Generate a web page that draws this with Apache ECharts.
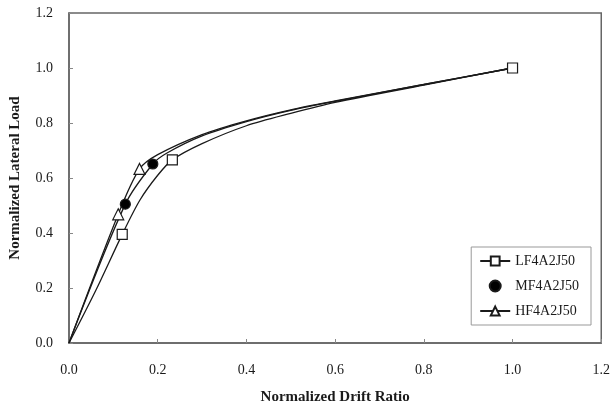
<!DOCTYPE html>
<html>
<head>
<meta charset="utf-8">
<script src="https://cdn.jsdelivr.net/npm/echarts@6/dist/echarts.min.js"></script>
<style>
  html, body { margin: 0; padding: 0; background: #fff; }
  #chart { width: 613px; height: 412px; }
</style>
</head>
<body>
<div id="chart"></div>
<script>
// points; *Marks = indices that carry a marker
var lfX = [0, 0.06, 0.12, 0.16, 0.2, 0.233, 0.3, 0.4, 0.5, 0.6, 0.8, 1.0];
var lfY = [0, 0.19, 0.395, 0.52, 0.61, 0.666, 0.725, 0.79, 0.835, 0.875, 0.938, 1.0];
var lfMarks = [2, 5, 11];

var mfX = [0, 0.127, 0.189, 0.22, 0.3, 0.4, 0.5, 0.6, 0.8, 1.0];
var mfY = [0, 0.505, 0.651, 0.69, 0.753, 0.805, 0.846, 0.879, 0.94, 1.0];
var mfMarks = [1, 2];

var hfX = [0, 0.111, 0.159, 0.2, 0.3, 0.4, 0.5, 0.6, 0.8, 1.0];
var hfY = [0, 0.468, 0.633, 0.685, 0.758, 0.808, 0.848, 0.88, 0.94, 1.0];
var hfMarks = [1, 2];

var names = ['LF4A2J50', 'MF4A2J50', 'HF4A2J50'];
var ticks = [0, 0.2, 0.4, 0.6, 0.8, 1.0, 1.2];

var serif = 'Liberation Serif';
var ink = '#1a1a1a';

function points(xs, ys, marks) {
	return xs.map(function(x, i) {
		var item = { value: [x, ys[i]] };
		if (marks.indexOf(i) < 0) item.symbol = 'none';
		return item;
	});
}

function curve(name, xs, ys, marks, symbol, size, fill) {
	return {
		name: name,
		type: 'line',
		data: points(xs, ys, marks),
		smooth: 0.3,
		symbol: symbol,
		symbolSize: size,
		showAllSymbol: true,
		lineStyle: { color: ink, width: 1.3 },
		itemStyle: { color: fill, borderColor: ink, borderWidth: 1.2 },
		emphasis: { disabled: true },
		z: 2
	};
}

var chart = echarts.init(document.getElementById('chart'));
chart.setOption({
	animation: false,
	grid: { left: 68, right: 8, top: 13, bottom: 69, show: true, borderColor: '#666', borderWidth: 1.5 },
	legend: {
		orient: 'vertical',
		right: 22, top: 247,
		padding: [7, 12, 7, 8],
		itemGap: 11,
		itemWidth: 30, itemHeight: 11,
		borderColor: '#999', borderWidth: 1,
		backgroundColor: '#fff',
		textStyle: { fontFamily: serif, fontSize: 14, color: ink },
		data: [
			{ name: names[0] },
			{ name: names[1], icon: 'circle' },
			{ name: names[2] }
		]
	},
	xAxis: {
		type: 'value', min: ticks[0], max: ticks[ticks.length - 1], interval: 0.2,
		name: 'Normalized Drift Ratio', nameLocation: 'middle', nameGap: 47,
		nameTextStyle: { fontFamily: serif, fontSize: 15, fontWeight: 'bold', color: ink },
		axisLine: { lineStyle: { color: '#666', width: 1.5 } },
		axisTick: { inside: true, length: 4, lineStyle: { color: '#888' } },
		axisLabel: { fontFamily: serif, fontSize: 14, color: ink, margin: 20, formatter: function(v) { return v.toFixed(1); } },
		splitLine: { show: false }
	},
	yAxis: {
		type: 'value', min: ticks[0], max: ticks[ticks.length - 1], interval: 0.2,
		name: 'Normalized Lateral Load', nameLocation: 'middle', nameGap: 46,
		nameTextStyle: { fontFamily: serif, fontSize: 15, fontWeight: 'bold', color: ink },
		axisLine: { lineStyle: { color: '#666', width: 1.5 } },
		axisTick: { inside: true, length: 4, lineStyle: { color: '#888' } },
		axisLabel: { fontFamily: serif, fontSize: 14, color: ink, margin: 16, formatter: function(v) { return v.toFixed(1); } },
		splitLine: { show: false }
	},
	series: [
		curve(names[0], lfX, lfY, lfMarks, 'rect', 10, '#fff'),
		curve(names[1], mfX, mfY, mfMarks, 'circle', 10, '#000'),
		curve(names[2], hfX, hfY, hfMarks, 'triangle', 11, '#fff')
	]
});
</script>
</body>
</html>
